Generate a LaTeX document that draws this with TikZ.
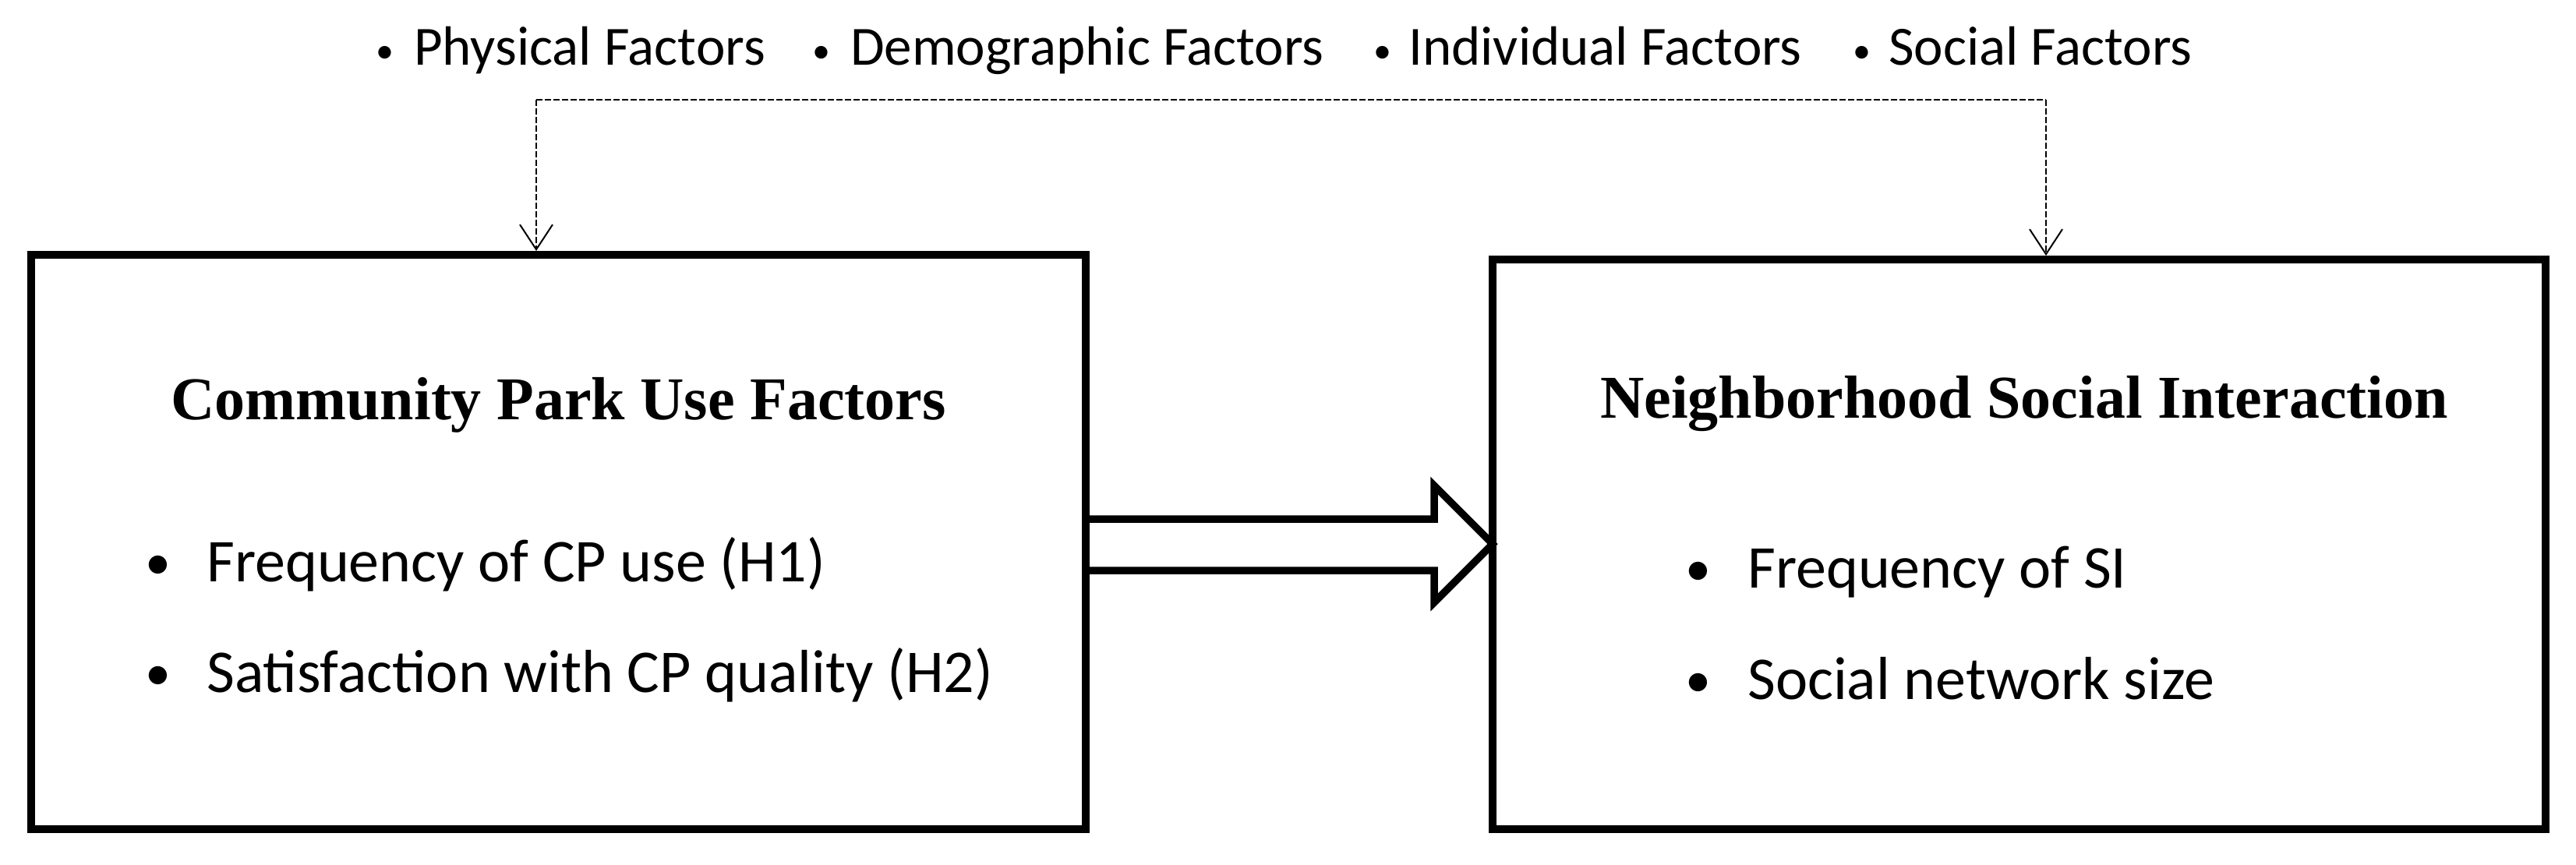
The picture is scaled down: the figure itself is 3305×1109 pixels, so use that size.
\documentclass[tikz,border=0pt]{standalone}
\usepackage{fontspec}
\setmainfont{Carlito}
\newfontfamily\titlefont{Liberation Serif}
\usetikzlibrary{arrows.meta}
\tikzset{
  box/.style={draw=black, line width=10pt, inner sep=0pt, outer sep=0pt, fill=none},
  toptext/.style={inner sep=0pt, anchor=base west, font=\fontsize{71}{80}\selectfont},
  topdot/.style={inner sep=0pt, anchor=base, font=\fontsize{46}{50}\selectfont},
  titletext/.style={inner sep=0pt, anchor=base, font=\titlefont\bfseries\fontsize{78}{88}\selectfont},
  itemtext/.style={inner sep=0pt, anchor=base west, font=\fontsize{78}{88}\selectfont},
  itemdot/.style={inner sep=0pt, anchor=base, font=\fontsize{66}{70}\selectfont},
  dashlink/.style={line width=2pt, dash pattern=on 8pt off 3pt, line join=miter},
  bigarrow/.style={line width=9.5pt, line join=miter, miter limit=10}
}
\begin{document}
\begin{tikzpicture}[x=1pt, y=-1pt]
\useasboundingbox (0,0) rectangle (3305,1109);

% boxes
\node[box, minimum width=1353pt, minimum height=737pt] (L) at (716.5,695.5) {};
\node[box, minimum width=1351pt, minimum height=731pt] (R) at (2590.5,698.5) {};

% top factor labels
\node[topdot] (d1) at (494,80) {•};
\node[toptext] (f1) at (531,83) {Physical Factors};
\node[topdot] (d2) at (1054,80) {•};
\node[toptext] (f2) at (1091,83) {Demographic Factors};
\node[topdot] (d3) at (1774,80) {•};
\node[toptext] (f3) at (1807,83) {Individual Factors};
\node[topdot] (d4) at (2389,80) {•};
\node[toptext] (f4) at (2423,83) {Social Factors};

% dashed bracket
\coordinate (cl) at (688,128);
\coordinate (cr) at (2625,128);
\draw[dashlink] (cl) -- (cr);
\draw[dashlink, -{Straight Barb[length=32pt, width=42pt, line width=2pt]}] (cl) -- (cl |- 0,322);
\draw[dashlink, -{Straight Barb[length=32pt, width=42pt, line width=2pt]}] (cr) -- (cr |- 0,328);

% titles
\node[titletext] (t1) at (716.5,538) {Community Park Use Factors};
\node[titletext] (t2) at (2597,536) {Neighborhood Social Interaction};

% left items
\node[itemdot] (b1) at (203,743) {•};
\node[itemtext] (i1) at (265,746) {Frequency of CP use (H1)};
\node[itemdot] (b2) at (203,885) {•};
\node[itemtext] (i2) at (265,888) {Satisfaction with CP quality (H2)};

% right items
\node[itemdot] (b3) at (2179,751) {•};
\node[itemtext] (i3) at (2242,754) {Frequency of SI};
\node[itemdot] (b4) at (2179,894) {•};
\node[itemtext] (i4) at (2242,897) {Social network size};

% big block arrow
\draw[bigarrow] (L.east |- 0,666) -- (1840,666) -- (1840,623) -- (R.west |- 1906,698) -- (1840,773) -- (1840,732) -- (L.east |- 0,732);
\end{tikzpicture}
\end{document}
